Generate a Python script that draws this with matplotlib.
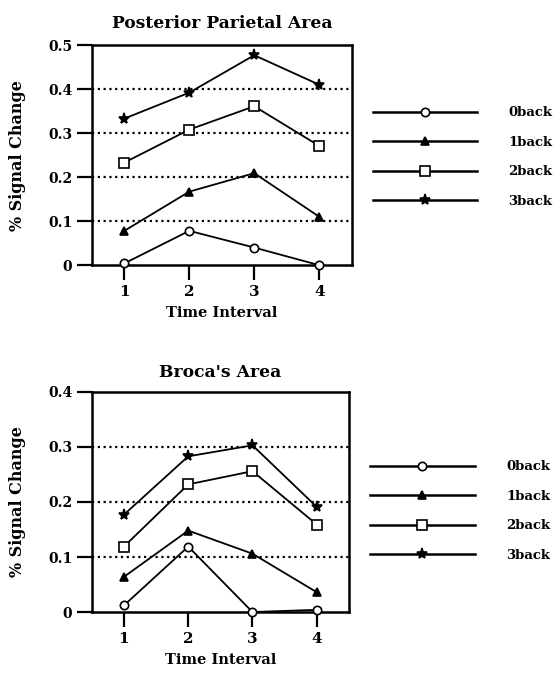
import matplotlib
matplotlib.use("Agg")
import matplotlib.pyplot as plt

intervals = [1, 2, 3, 4]
series_labels = ["0back", "1back", "2back", "3back"]

parietal_0back = [0.004, 0.078, 0.040, 0.000]
parietal_1back = [0.078, 0.167, 0.209, 0.110]
parietal_2back = [0.233, 0.308, 0.361, 0.271]
parietal_3back = [0.333, 0.392, 0.477, 0.410]

broca_0back = [0.012, 0.119, 0.000, 0.004]
broca_1back = [0.064, 0.148, 0.106, 0.036]
broca_2back = [0.119, 0.232, 0.256, 0.159]
broca_3back = [0.177, 0.283, 0.303, 0.191]

parietal_yticks = [0, 0.1, 0.2, 0.3, 0.4, 0.5]
parietal_yticklabels = ["0", "0.1", "0.2", "0.3", "0.4", "0.5"]
broca_yticks = [0, 0.1, 0.2, 0.3, 0.4]
broca_yticklabels = ["0", "0.1", "0.2", "0.3", "0.4"]

plt.rcParams['font.family'] = ['DejaVu Serif']
plt.rcParams['font.weight'] = 'bold'

styles = [
    dict(marker='o', markerfacecolor='white', markersize=6),
    dict(marker='^', markerfacecolor='black', markersize=6),
    dict(marker='s', markerfacecolor='white', markersize=6.5),
    dict(marker='*', markerfacecolor='black', markersize=8),
]

fig = plt.figure(figsize=(5.6, 6.73), dpi=100)

def panel(rect, series, title, yticks, yticklabels, ymax, gridlines, title_pad, leg_anchor):
    ax = fig.add_axes(rect)
    handles = []
    for vals, lab, st in zip(series, series_labels, styles):
        h, = ax.plot(intervals, vals, color='black', lw=1.3,
                     markeredgecolor='black', markeredgewidth=1.2,
                     label=lab, clip_on=False, zorder=3, **st)
        handles.append(h)
    for g in gridlines:
        ax.axhline(g, color='black', lw=1.6, ls=(0, (1, 1.6)), zorder=1)
    ax.set_xlim(0.5, 4.5)
    ax.set_ylim(0, ymax)
    ax.set_xticks(intervals)
    ax.set_xticklabels([str(i) for i in intervals])
    ax.set_yticks(yticks)
    ax.set_yticklabels(yticklabels)
    for s in ax.spines.values():
        s.set_linewidth(1.8)
    ax.tick_params(axis='both', direction='out', length=10.5, width=1.6, pad=4)
    ax.tick_params(axis='x', labelsize=11)
    ax.tick_params(axis='y', labelsize=10, pad=3.5)
    for t in ax.get_xticklabels() + ax.get_yticklabels():
        t.set_fontweight('bold')
    ax.set_title(title, fontsize=12.3, fontweight='bold', pad=title_pad)
    ax.set_xlabel("Time Interval", fontsize=10.5, fontweight='bold', labelpad=5)
    ax.set_ylabel("% Signal Change", fontsize=11.5, fontweight='bold', labelpad=16)
    leg = fig.legend(handles=handles, labels=series_labels, loc='center left',
                     bbox_to_anchor=leg_anchor, frameon=False, handlelength=7.9,
                     handletextpad=2.4, labelspacing=1.25, numpoints=1,
                     prop=dict(size=9.5, weight='bold'))
    for line in leg.get_lines():
        line.set_linewidth(1.8)
    return ax

panel([0.164, 0.606, 0.464, 0.327],
      [parietal_0back, parietal_1back, parietal_2back, parietal_3back],
      "Posterior Parietal Area", parietal_yticks, parietal_yticklabels, 0.5,
      [0.1, 0.2, 0.3, 0.4], 12, (0.644, 1 - 157 / 673))
panel([0.164, 0.0906, 0.459, 0.327],
      [broca_0back, broca_1back, broca_2back, broca_3back],
      "Broca's Area", broca_yticks, broca_yticklabels, 0.4,
      [0.1, 0.2, 0.3], 11, (0.640, 1 - 511 / 673))

fig.savefig("out.png", dpi=100)
